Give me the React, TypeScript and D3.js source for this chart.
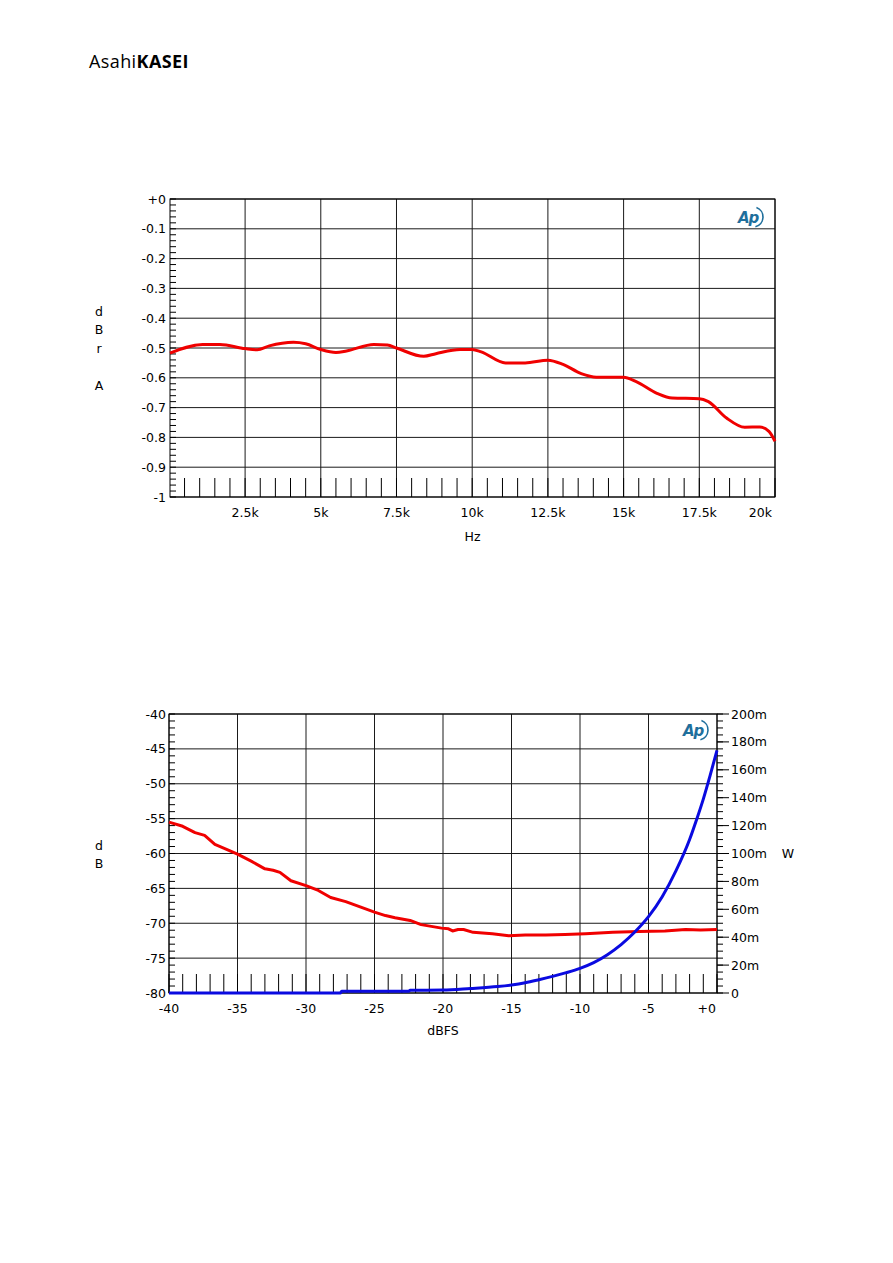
import React from "react";
import * as d3 from "d3";

const PAGE_W = 893;
const PAGE_H = 1263;

// ---------- Top chart: frequency response ----------
const freqHz = [20, 1100, 1670, 2500, 2900, 3300, 4100, 4500, 5000, 5500, 5850, 6750, 7200, 7500, 8400, 8800, 9600, 10000, 10300, 11100, 11750, 12500, 13000, 13600, 14100, 15000, 15400, 16100, 16600, 17500, 17800, 18400, 19000, 19500, 19800, 20000];
const levelDbr = [-0.517, -0.488, -0.488, -0.502, -0.506, -0.493, -0.481, -0.486, -0.505, -0.515, -0.51, -0.488, -0.49, -0.5, -0.528, -0.519, -0.505, -0.505, -0.513, -0.55, -0.55, -0.541, -0.555, -0.586, -0.598, -0.598, -0.612, -0.652, -0.668, -0.67, -0.68, -0.735, -0.766, -0.765, -0.78, -0.813];
const freqTicks = [2500, 5000, 7500, 10000, 12500, 15000, 17500, 20000];
const freqTickLabels = ["2.5k", "5k", "7.5k", "10k", "12.5k", "15k", "17.5k", "20k"];
const dbrTicks = [0, -0.1, -0.2, -0.3, -0.4, -0.5, -0.6, -0.7, -0.8, -0.9, -1];
const dbrTickLabels = ["+0", "-0.1", "-0.2", "-0.3", "-0.4", "-0.5", "-0.6", "-0.7", "-0.8", "-0.9", "-1"];

// ---------- Bottom chart: noise (dB) and power (W) vs level ----------
const noiseInputDbfs = [-40, -39, -38.1, -37.4, -36.65, -35.8, -35, -34, -33, -32.4, -31.9, -31.1, -30, -29.1, -28.2, -27.1, -26, -25, -24.2, -23.5, -22.4, -21.6, -20.1, -19.6, -19.3, -18.9, -18.5, -17.8, -16.4, -15.2, -14, -12.5, -11.1, -9.6, -7.6, -5.7, -3.8, -2.3, -1.2, 0];
const noiseDb = [-55.5, -56.1, -57, -57.4, -58.7, -59.4, -60.1, -61.1, -62.2, -62.4, -62.7, -63.9, -64.6, -65.3, -66.3, -66.9, -67.7, -68.4, -68.9, -69.2, -69.6, -70.2, -70.7, -70.8, -71.1, -70.9, -70.9, -71.3, -71.5, -71.8, -71.7, -71.7, -71.6, -71.5, -71.3, -71.2, -71.1, -70.9, -70.95, -70.9];
const powerInputDbfs = [-40, -27.5, -27.4, -22.5, -22.4, -20, -18, -16, -15, -14, -13, -12, -11, -10, -9, -8, -7, -6, -5, -4, -3, -2, -1.5, -1, -0.5, 0];
const powerMilliW = [0, 0, 1.2, 1.2, 2.0, 2.1, 3.2, 4.6, 5.7, 7.3, 9.5, 11.9, 14.6, 17.7, 21.8, 27.5, 34.7, 43.7, 54.7, 69, 87.5, 110, 124, 139, 156, 174];
const dbfsTicks = [-40, -35, -30, -25, -20, -15, -10, -5, 0];
const dbfsTickLabels = ["-40", "-35", "-30", "-25", "-20", "-15", "-10", "-5", "+0"];
const dbTicks = [-40, -45, -50, -55, -60, -65, -70, -75, -80];
const dbTickLabels = ["-40", "-45", "-50", "-55", "-60", "-65", "-70", "-75", "-80"];
const wattTicks = [0, 20, 40, 60, 80, 100, 120, 140, 160, 180, 200];
const wattTickLabels = ["0", "20m", "40m", "60m", "80m", "100m", "120m", "140m", "160m", "180m", "200m"];

const FONT = "'DejaVu Sans', sans-serif";
const FS = 12.5;
const RED = "#f00000";
const BLUE = "#0a0ae0";
const GRID = "#1a1a1a";
const AP = "#1f6f9c";

function ApLogo({ x, y }: { x: number; y: number }) {
  const arc = d3.arc()({ innerRadius: 10, outerRadius: 10, startAngle: 0.35, endAngle: 2.9 }) as string;
  return (
    <g transform={`translate(${x},${y})`}>
      <text x={-13} y={6} fontFamily="'DejaVu Sans', sans-serif" fontStyle="italic" fontWeight="bold" fontSize={15} fill={AP} letterSpacing={-1}>
        Ap
      </text>
      <path d={arc} transform="translate(2,0)" fill="none" stroke={AP} strokeWidth={1.6} />
    </g>
  );
}

function TopChart() {
  const L = 170, R = 775, T = 199, B = 497;
  const x = d3.scaleLinear().domain([20, 20000]).range([L, R]);
  const y = d3.scaleLinear().domain([0, -1]).range([T, B]);
  const line = d3.line<number>().x((_, i) => x(freqHz[i])).y((d) => y(d)).curve(d3.curveMonotoneX);
  const minorY = y.ticks(50);
  const minorX = x.ticks(40);
  return (
    <g>
      {dbrTicks.map((t) => (
        <line key={"gy" + t} x1={L} x2={R} y1={y(t)} y2={y(t)} stroke={GRID} strokeWidth={1} />
      ))}
      {freqTicks.map((t) => (
        <line key={"gx" + t} x1={x(t)} x2={x(t)} y1={T} y2={B} stroke={GRID} strokeWidth={1} />
      ))}
      {minorY.map((t) => (
        <line key={"my" + t} x1={L} x2={L + 6} y1={y(t)} y2={y(t)} stroke="#000" strokeWidth={1} />
      ))}
      {minorX.map((t) => (
        <line key={"mx" + t} x1={x(t)} x2={x(t)} y1={B - 19} y2={B} stroke="#000" strokeWidth={1} />
      ))}
      <rect x={L} y={T} width={R - L} height={B - T} fill="none" stroke="#000" strokeWidth={1} />
      {dbrTicks.map((t, i) => (
        <text key={"ly" + t} x={L - 4} y={y(t)} textAnchor="end" dominantBaseline="central" fontFamily={FONT} fontSize={FS} fill="#000">
          {dbrTickLabels[i]}
        </text>
      ))}
      {freqTicks.map((t, i) => {
        const last = i === freqTicks.length - 1;
        return (
          <text key={"lx" + t} x={last ? x(t) - 3 : x(t)} y={B + 15} textAnchor={last ? "end" : "middle"} dominantBaseline="central" fontFamily={FONT} fontSize={FS} fill="#000">
            {freqTickLabels[i]}
          </text>
        );
      })}
      <text x={(L + R) / 2} y={B + 39} textAnchor="middle" dominantBaseline="central" fontFamily={FONT} fontSize={FS}>Hz</text>
      {["d", "B", "r", "", "A"].map((c, i) => (
        <text key={"t" + i} x={99} y={311 + i * 18.6} textAnchor="middle" dominantBaseline="central" fontFamily={FONT} fontSize={FS}>{c}</text>
      ))}
      <path d={line(levelDbr) || ""} fill="none" stroke={RED} strokeWidth={3} strokeLinejoin="round" />
      <ApLogo x={R - 24} y={T + 18} />
    </g>
  );
}

function BottomChart() {
  const L = 169, R = 717, T = 714, B = 993;
  const x = d3.scaleLinear().domain([-40, 0]).range([L, R]);
  const y = d3.scaleLinear().domain([-40, -80]).range([T, B]);
  const yW = d3.scaleLinear().domain([0, 200]).range([B, T]);
  const redLine = d3.line<number>().x((_, i) => x(noiseInputDbfs[i])).y((d) => y(d));
  const blueLine = d3.line<number>().x((_, i) => x(powerInputDbfs[i])).y((d) => yW(d)).curve(d3.curveMonotoneX);
  const minorY = y.ticks(40);
  const minorX = x.ticks(40);
  const minorW = yW.ticks(40);
  return (
    <g>
      {dbTicks.map((t) => (
        <line key={"gy" + t} x1={L} x2={R} y1={y(t)} y2={y(t)} stroke={GRID} strokeWidth={1} />
      ))}
      {dbfsTicks.map((t) => (
        <line key={"gx" + t} x1={x(t)} x2={x(t)} y1={T} y2={B} stroke={GRID} strokeWidth={1} />
      ))}
      {minorY.map((t) => (
        <line key={"my" + t} x1={L} x2={L + 6} y1={y(t)} y2={y(t)} stroke="#000" strokeWidth={1} />
      ))}
      {minorX.map((t) => (
        <line key={"mx" + t} x1={x(t)} x2={x(t)} y1={B - 19} y2={B} stroke="#000" strokeWidth={1} />
      ))}
      {minorW.map((t) => (
        <line key={"mw" + t} x1={R} x2={R + 6} y1={yW(t)} y2={yW(t)} stroke="#000" strokeWidth={1} />
      ))}
      {wattTicks.map((t) => (
        <line key={"tw" + t} x1={R} x2={R + 12} y1={yW(t)} y2={yW(t)} stroke="#000" strokeWidth={1} />
      ))}
      <rect x={L} y={T} width={R - L} height={B - T} fill="none" stroke="#000" strokeWidth={1} />
      {dbTicks.map((t, i) => (
        <text key={"ly" + t} x={L - 3} y={y(t)} textAnchor="end" dominantBaseline="central" fontFamily={FONT} fontSize={FS}>
          {dbTickLabels[i]}
        </text>
      ))}
      {wattTicks.map((t, i) => (
        <text key={"lw" + t} x={R + 14} y={yW(t)} textAnchor="start" dominantBaseline="central" fontFamily={FONT} fontSize={FS}>
          {wattTickLabels[i]}
        </text>
      ))}
      {dbfsTicks.map((t, i) => {
        const last = i === dbfsTicks.length - 1;
        return (
          <text key={"lx" + t} x={last ? x(t) - 1 : x(t)} y={B + 15} textAnchor={last ? "end" : "middle"} dominantBaseline="central" fontFamily={FONT} fontSize={FS}>
            {dbfsTickLabels[i]}
          </text>
        );
      })}
      <text x={(L + R) / 2} y={B + 37} textAnchor="middle" dominantBaseline="central" fontFamily={FONT} fontSize={FS}>dBFS</text>
      {["d", "B"].map((c, i) => (
        <text key={"t" + i} x={99} y={845 + i * 18.6} textAnchor="middle" dominantBaseline="central" fontFamily={FONT} fontSize={FS}>{c}</text>
      ))}
      <text x={788} y={853} textAnchor="middle" dominantBaseline="central" fontFamily={FONT} fontSize={FS}>W</text>
      <path d={redLine(noiseDb) || ""} fill="none" stroke={RED} strokeWidth={3} strokeLinejoin="round" />
      <path d={blueLine(powerMilliW) || ""} fill="none" stroke={BLUE} strokeWidth={3} strokeLinejoin="round" />
      <ApLogo x={R - 21} y={T + 16} />
    </g>
  );
}

export default function App() {
  return (
    <div style={{ position: "absolute", left: 0, top: 0 }}>
      <svg width={PAGE_W} height={PAGE_H} viewBox={`0 0 ${PAGE_W} ${PAGE_H}`} style={{ display: "block", background: "#fff" }}>
        <text x={89} y={68} fontFamily="'Open Sans', sans-serif" fontSize={18} letterSpacing={0.4} fill="#000">
          <tspan>Asahi</tspan>
          <tspan fontWeight="bold">KASEI</tspan>
        </text>
        <TopChart />
        <BottomChart />
      </svg>
    </div>
  );
}
